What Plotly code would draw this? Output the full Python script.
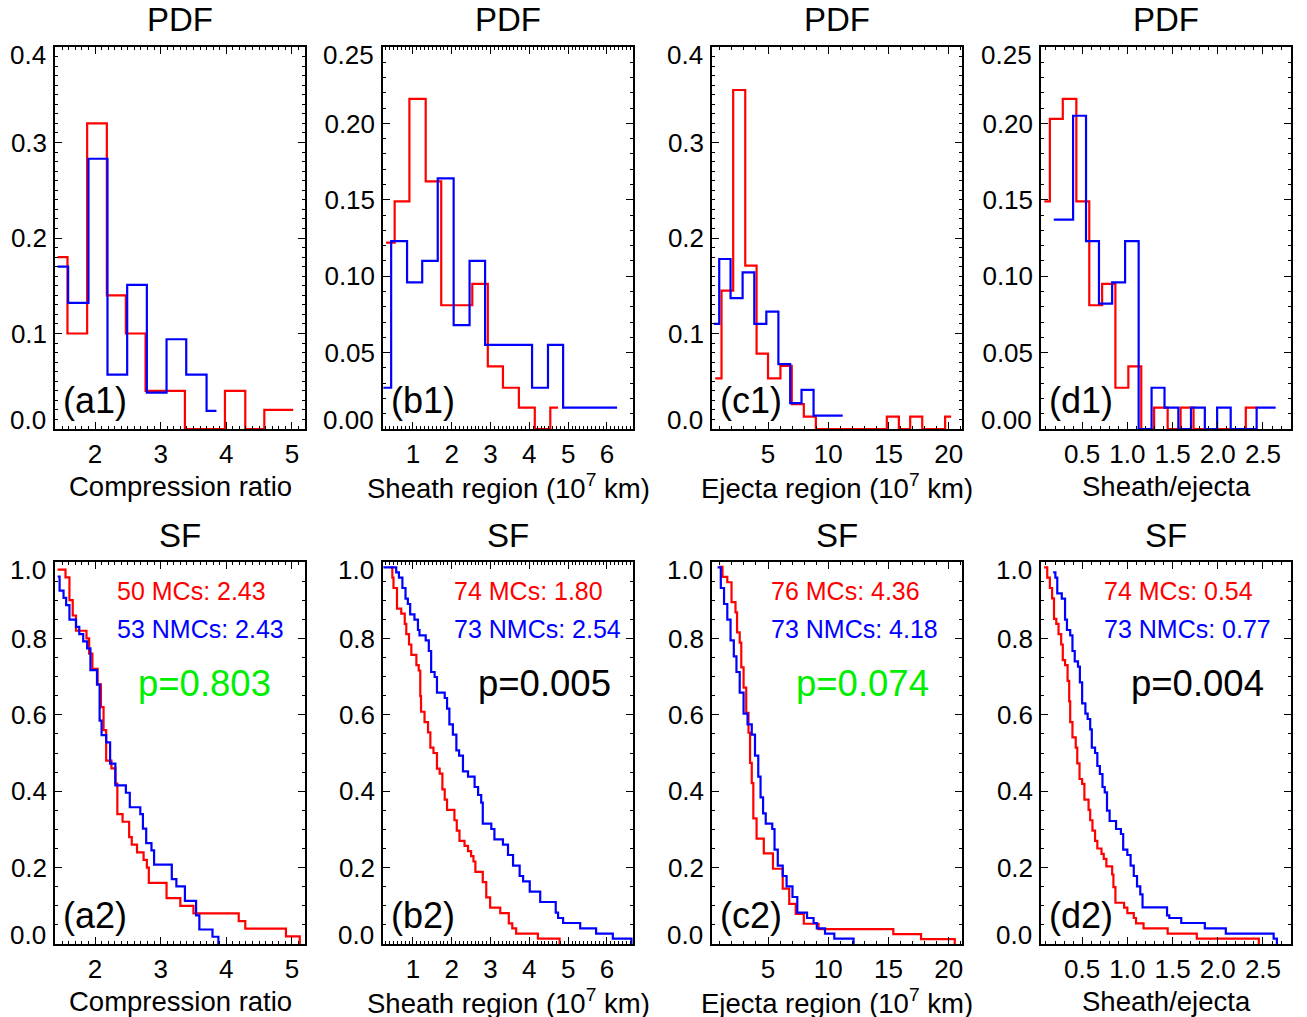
import plotly.graph_objects as go

# ---------------- data ----------------
# PDF histograms: step edges (n+1) and heights (n)
a1_mc_edges = [1.43, 1.58, 1.88, 2.18, 2.47, 2.77, 3.37, 3.98, 4.29, 4.58, 5.02]
a1_mc_pdf = [0.18, 0.10, 0.32, 0.14, 0.10, 0.04, 0.00, 0.04, 0.00, 0.02]
a1_nmc_edges = [1.43, 1.59, 1.90, 2.19, 2.49, 2.79, 3.09, 3.39, 3.70, 3.85]
a1_nmc_pdf = [0.170, 0.132, 0.283, 0.057, 0.151, 0.038, 0.094, 0.057, 0.019]

b1_mc_edges = [0.31, 0.53, 0.91, 1.33, 1.73, 2.53, 2.93, 3.32, 3.73, 4.14, 4.54, 4.74]
b1_mc_pdf = [0.122, 0.149, 0.216, 0.162, 0.081, 0.095, 0.041, 0.027, 0.014, 0.0, 0.014]
b1_nmc_edges = [0.24, 0.44, 0.85, 1.24, 1.64, 2.05, 2.46, 2.86, 4.07, 4.48, 4.87, 6.26]
b1_nmc_pdf = [0.027, 0.123, 0.096, 0.110, 0.164, 0.068, 0.110, 0.055, 0.027, 0.055, 0.014]

c1_mc_edges = [0.62, 1.14, 2.11, 3.11, 4.05, 5.0, 6.03, 6.97, 7.97, 8.97, 14.86, 15.86, 16.8, 17.8, 19.7, 20.2]
c1_mc_pdf = [0.053, 0.145, 0.355, 0.171, 0.079, 0.053, 0.066, 0.026, 0.013, 0.0, 0.013, 0.0, 0.013, 0.0, 0.013]
c1_nmc_edges = [0.49, 0.95, 1.89, 2.89, 3.86, 4.86, 5.86, 6.84, 7.78, 8.78, 11.2]
c1_nmc_pdf = [0.110, 0.178, 0.137, 0.164, 0.110, 0.123, 0.068, 0.027, 0.041, 0.014]

d1_mc_edges = [0.082, 0.143, 0.286, 0.436, 0.579, 0.721, 0.868, 1.011, 1.154, 1.296, 1.446, 1.589, 1.732, 2.31, 2.43]
d1_mc_pdf = [0.149, 0.203, 0.216, 0.149, 0.081, 0.095, 0.027, 0.041, 0.0, 0.014, 0.0, 0.014, 0.0, 0.014]
d1_nmc_edges = [0.186, 0.40, 0.543, 0.686, 0.832, 0.975, 1.125, 1.268, 1.411, 1.564, 1.704, 1.857, 1.993, 2.143, 2.43, 2.64]
d1_nmc_pdf = [0.137, 0.205, 0.123, 0.082, 0.096, 0.123, 0.0, 0.027, 0.014, 0.0, 0.014, 0.0, 0.014, 0.0, 0.014]

# Survival functions: step positions and values after each step
a2_mc_x = [1.43, 1.55, 1.61, 1.66, 1.71, 1.87, 1.91, 1.96, 2.04, 2.09, 2.13, 2.17, 2.25, 2.31, 2.34,
           2.42, 2.52, 2.56, 2.64, 2.74, 2.79, 2.82, 3.09, 3.30, 3.50, 4.19, 4.29, 4.91, 5.12]
a2_mc_sf = [0.98, 0.96, 0.90, 0.86, 0.82, 0.80, 0.76, 0.72, 0.68, 0.62, 0.56, 0.48, 0.46, 0.42, 0.34,
            0.32, 0.28, 0.26, 0.24, 0.22, 0.20, 0.16, 0.12, 0.10, 0.08, 0.06, 0.04, 0.02, 0.0]
a2_nmc_x = [1.43, 1.46, 1.52, 1.56, 1.61, 1.71, 1.76, 1.82, 1.88, 1.93, 2.03, 2.07, 2.10, 2.17, 2.23,
            2.31, 2.47, 2.53, 2.69, 2.73, 2.78, 2.86, 2.90, 3.17, 3.24, 3.37, 3.54, 3.59, 3.79, 3.88]
a2_nmc_sf = [0.962, 0.925, 0.906, 0.887, 0.849, 0.830, 0.811, 0.792, 0.774, 0.717, 0.679, 0.585, 0.547, 0.528, 0.472,
             0.415, 0.396, 0.358, 0.340, 0.302, 0.264, 0.245, 0.208, 0.170, 0.151, 0.113, 0.075, 0.038, 0.019, 0.0]

b2_mc_x = [0.42, 0.47, 0.50, 0.59, 0.70, 0.79, 0.83, 0.90, 0.96, 1.09, 1.15, 1.19, 1.21, 1.30, 1.39, 1.45, 1.53,
           1.62, 1.69, 1.76, 1.82, 1.88, 2.07, 2.13, 2.20, 2.33, 2.42, 2.50, 2.56, 2.61, 2.80, 2.89, 2.99,
           3.25, 3.47, 3.56, 3.66, 4.22, 4.78]
b2_mc_sf = [0.986, 0.959, 0.932, 0.878, 0.865, 0.838, 0.811, 0.784, 0.757, 0.730, 0.716, 0.649, 0.608, 0.581,
            0.554, 0.514, 0.500, 0.459, 0.446, 0.405, 0.378, 0.351, 0.324, 0.297, 0.270, 0.257, 0.243, 0.230,
            0.216, 0.189, 0.162, 0.122, 0.095, 0.081, 0.054, 0.041, 0.027, 0.014, 0.0]
b2_nmc_x = [0.24, 0.57, 0.64, 0.73, 0.81, 0.87, 0.93, 1.04, 1.13, 1.17, 1.33, 1.41, 1.47, 1.56, 1.62, 1.82,
            1.88, 1.94, 2.03, 2.12, 2.19, 2.29, 2.42, 2.59, 2.68, 2.76, 2.80, 3.02, 3.10, 3.32, 3.45, 3.58,
            3.75, 3.84, 4.01, 4.28, 4.68, 4.74, 4.87, 5.31, 5.72, 6.15, 6.63]
b2_nmc_sf = [0.986, 0.973, 0.959, 0.932, 0.904, 0.890, 0.863, 0.849, 0.822, 0.808, 0.795, 0.767, 0.712, 0.699,
             0.658, 0.644, 0.616, 0.575, 0.548, 0.507, 0.493, 0.452, 0.438, 0.411, 0.390, 0.370, 0.315, 0.301,
             0.274, 0.260, 0.233, 0.205, 0.178, 0.164, 0.137, 0.110, 0.082, 0.068, 0.055, 0.041, 0.027, 0.014, 0.0]

c2_mc_x = [0.95, 1.22, 1.62, 1.97, 2.30, 2.43, 2.65, 2.78, 2.97, 3.19, 3.38, 3.51, 3.65, 3.78, 4.05, 4.65,
           5.41, 6.22, 6.76, 7.30, 7.97, 9.19, 15.4, 17.7, 20.5]
c2_mc_sf = [0.987, 0.961, 0.947, 0.895, 0.868, 0.816, 0.789, 0.724, 0.671, 0.605, 0.553, 0.474, 0.421, 0.329,
            0.276, 0.237, 0.197, 0.145, 0.105, 0.079, 0.053, 0.039, 0.026, 0.013, 0.0]
c2_nmc_x = [0.81, 1.08, 1.35, 1.62, 1.89, 2.16, 2.38, 2.65, 2.97, 3.30, 3.65, 3.92, 4.19, 4.38, 4.59, 4.81,
            5.35, 5.54, 5.81, 6.22, 6.54, 7.03, 7.43, 8.24, 8.78, 9.05, 9.73, 10.5, 12.1]
c2_nmc_sf = [0.986, 0.932, 0.890, 0.849, 0.795, 0.753, 0.712, 0.658, 0.603, 0.575, 0.548, 0.493, 0.438, 0.384,
             0.342, 0.315, 0.301, 0.247, 0.205, 0.178, 0.151, 0.123, 0.082, 0.068, 0.055, 0.041, 0.027, 0.014, 0.0]

d2_mc_x = [0.079, 0.114, 0.143, 0.168, 0.189, 0.214, 0.239, 0.268, 0.286, 0.311, 0.339, 0.357, 0.368, 0.393,
           0.429, 0.446, 0.471, 0.500, 0.525, 0.571, 0.589, 0.614, 0.643, 0.668, 0.714, 0.739, 0.768, 0.832,
           0.846, 0.868, 0.964, 1.000, 1.071, 1.096, 1.179, 1.446, 1.768, 2.454]
d2_mc_sf = [0.986, 0.959, 0.932, 0.905, 0.851, 0.838, 0.811, 0.784, 0.743, 0.730, 0.689, 0.635, 0.581, 0.541,
            0.514, 0.473, 0.432, 0.419, 0.378, 0.351, 0.324, 0.297, 0.270, 0.250, 0.236, 0.223, 0.203, 0.182,
            0.149, 0.108, 0.095, 0.081, 0.068, 0.054, 0.041, 0.027, 0.014, 0.0]
d2_nmc_x = [0.179, 0.204, 0.225, 0.275, 0.311, 0.332, 0.368, 0.393, 0.418, 0.454, 0.475, 0.500, 0.536, 0.561,
            0.589, 0.607, 0.643, 0.668, 0.696, 0.725, 0.750, 0.775, 0.804, 0.875, 0.929, 0.954, 1.000, 1.036,
            1.071, 1.107, 1.143, 1.168, 1.439, 1.464, 1.596, 1.857, 2.089, 2.618, 2.654]
d2_nmc_sf = [0.973, 0.959, 0.918, 0.904, 0.849, 0.822, 0.808, 0.767, 0.740, 0.726, 0.685, 0.630, 0.603, 0.589,
             0.562, 0.514, 0.500, 0.466, 0.445, 0.411, 0.397, 0.349, 0.322, 0.301, 0.288, 0.247, 0.233, 0.205,
             0.178, 0.151, 0.130, 0.096, 0.075, 0.068, 0.055, 0.041, 0.027, 0.014, 0.0]

panel_letters = ["a", "b", "c", "d"]
x_titles = ["Compression ratio", "Sheath region (10<sup>7</sup> km)",
            "Ejecta region (10<sup>7</sup> km)", "Sheath/ejecta"]
x_ranges = [[1.39, 5.2], [0.23, 6.67], [0.35, 21.1], [0.045, 2.81]]
x_tickvals = [[2, 3, 4, 5], [1, 2, 3, 4, 5, 6], [5, 10, 15, 20], [0.5, 1.0, 1.5, 2.0, 2.5]]
x_ticktext = [["2", "3", "4", "5"], ["1", "2", "3", "4", "5", "6"], ["5", "10", "15", "20"],
              ["0.5", "1.0", "1.5", "2.0", "2.5"]]
x_minor = [0.1, 0.1, 1, 0.1]
pdf_y_ticks = [[0, 0.1, 0.2, 0.3, 0.4], [0, 0.05, 0.10, 0.15, 0.20, 0.25],
               [0, 0.1, 0.2, 0.3, 0.4], [0, 0.05, 0.10, 0.15, 0.20, 0.25]]
pdf_y_text = [["0.0", "0.1", "0.2", "0.3", "0.4"], ["0.00", "0.05", "0.10", "0.15", "0.20", "0.25"],
              ["0.0", "0.1", "0.2", "0.3", "0.4"], ["0.00", "0.05", "0.10", "0.15", "0.20", "0.25"]]
pdf_y_minor = [0.01, 0.01, 0.01, 0.01]
sf_y_ticks = [0, 0.2, 0.4, 0.6, 0.8, 1.0]
sf_y_text = ["0.0", "0.2", "0.4", "0.6", "0.8", "1.0"]
mc_counts = [50, 74, 76, 74]
nmc_counts = [53, 73, 73, 73]
mc_medians = ["2.43", "1.80", "4.36", "0.54"]
nmc_medians = ["2.43", "2.54", "4.18", "0.77"]
p_values = ["0.803", "0.005", "0.074", "0.004"]
p_is_green = [True, False, True, False]

pdf_series = [
    (a1_mc_edges, a1_mc_pdf, a1_nmc_edges, a1_nmc_pdf),
    (b1_mc_edges, b1_mc_pdf, b1_nmc_edges, b1_nmc_pdf),
    (c1_mc_edges, c1_mc_pdf, c1_nmc_edges, c1_nmc_pdf),
    (d1_mc_edges, d1_mc_pdf, d1_nmc_edges, d1_nmc_pdf),
]
sf_series = [
    (a2_mc_x, a2_mc_sf, a2_nmc_x, a2_nmc_sf),
    (b2_mc_x, b2_mc_sf, b2_nmc_x, b2_nmc_sf),
    (c2_mc_x, c2_mc_sf, c2_nmc_x, c2_nmc_sf),
    (d2_mc_x, d2_mc_sf, d2_nmc_x, d2_nmc_sf),
]

# ---------------- style / layout ----------------
W, H = 1307, 1017
OFF = 8                      # default page margin that shifts the plot div
RED, BLUE, GREEN, BLACK = "#ff0000", "#0000ff", "#00ee00", "#000000"
FONT = "Liberation Sans, Arial, Helvetica, sans-serif"
TICK_SIZE = 26
col_left = [55, 383, 712, 1041]   # page pixel positions of the panels
panel_w = 250
row_top = [47, 562]
panel_h = 382


def px(xp):
    return (xp - OFF) / W


def py(yp):
    return 1 - (yp - OFF) / H


fig = go.Figure()
annotations = []

for r in range(2):
    for c in range(4):
        k = r * 4 + c + 1
        xname = "xaxis" if k == 1 else f"xaxis{k}"
        yname = "yaxis" if k == 1 else f"yaxis{k}"
        xref = "x" if k == 1 else f"x{k}"
        yref = "y" if k == 1 else f"y{k}"
        left = col_left[c]
        top = row_top[r]
        bottom = top + panel_h

        if r == 0:
            mc_x, mc_y, nmc_x, nmc_y = pdf_series[c]
            fig.add_trace(go.Scatter(x=mc_x, y=list(mc_y) + [mc_y[-1]], mode="lines", line_shape="hv",
                                     line=dict(color=RED, width=2.2), xaxis=xref, yaxis=yref))
            fig.add_trace(go.Scatter(x=nmc_x, y=list(nmc_y) + [nmc_y[-1]], mode="lines", line_shape="hv",
                                     line=dict(color=BLUE, width=2.2), xaxis=xref, yaxis=yref))
            yticks, ytext = pdf_y_ticks[c], pdf_y_text[c]
            yrange = [0, yticks[-1]]
            yminor = pdf_y_minor[c]
        else:
            mc_x, mc_y, nmc_x, nmc_y = sf_series[c]
            fig.add_trace(go.Scatter(x=mc_x, y=mc_y, mode="lines", line_shape="hv",
                                     line=dict(color=RED, width=2.2), xaxis=xref, yaxis=yref))
            fig.add_trace(go.Scatter(x=nmc_x, y=nmc_y, mode="lines", line_shape="hv",
                                     line=dict(color=BLUE, width=2.2), xaxis=xref, yaxis=yref))
            yticks, ytext = sf_y_ticks, sf_y_text
            yrange = [0, 1.0]
            yminor = 0.05

        common = dict(showgrid=False, zeroline=False, showline=True, linecolor=BLACK, linewidth=1.5,
                      mirror="allticks", ticks="inside", ticklen=7, tickwidth=1.2, tickcolor=BLACK,
                      tickfont=dict(family=FONT, size=TICK_SIZE, color=BLACK), tickmode="array",
                      automargin=False)
        fig.update_layout({
            xname: dict(common, domain=[px(left), px(left + panel_w)], range=x_ranges[c],
                        tickvals=x_tickvals[c], ticktext=x_ticktext[c], anchor=yref,
                        ticklabelstandoff=1,
                        minor=dict(tickmode="linear", tick0=0, dtick=x_minor[c], ticks="inside", ticklen=3.5,
                                   tickwidth=1, tickcolor=BLACK, showgrid=False)),
            yname: dict(common, domain=[py(bottom), py(top)], range=yrange, anchor=xref,
                        tickvals=yticks, ticktext=[" "] + ytext[1:-1] + [" "],
                        ticklabelstandoff=1,
                        minor=dict(tickmode="linear", tick0=0, dtick=yminor, ticks="inside", ticklen=3.5,
                                   tickwidth=1, tickcolor=BLACK, showgrid=False)),
        })

        # end labels of the y axis, nudged inward as in the reference
        for val, txt, shift in [(yticks[0], ytext[0], 9), (yticks[-1], ytext[-1], -8)]:
            annotations.append(dict(x=px(left - 7), xref="paper", y=val, yref=yref, yshift=shift,
                                    text=txt, showarrow=False, xanchor="right", yanchor="middle",
                                    font=dict(family=FONT, size=TICK_SIZE, color=BLACK)))

        # panel title
        annotations.append(dict(x=px(left + panel_w / 2), y=py(top - 27), xref="paper", yref="paper",
                                text="PDF" if r == 0 else "SF", showarrow=False,
                                xanchor="center", yanchor="middle",
                                font=dict(family=FONT, size=33, color=BLACK)))
        # x axis title
        annotations.append(dict(x=px(left + panel_w / 2), y=py(bottom + 57), xref="paper", yref="paper",
                                text=x_titles[c], showarrow=False, xanchor="center", yanchor="middle",
                                font=dict(family=FONT, size=27.5, color=BLACK)))
        # panel label
        annotations.append(dict(x=px(left + 6), y=py(bottom - 29), xref="paper", yref="paper",
                                text=f"({panel_letters[c]}{r + 1})", showarrow=False,
                                xanchor="left", yanchor="middle",
                                font=dict(family=FONT, size=36, color=BLACK)))

        if r == 1:
            stat_off = [60, 69, 57, 61][c]
            p_off = [81, 93, 82, 88][c]
            annotations.append(dict(x=px(left + stat_off), y=py(top + 29), xref="paper", yref="paper",
                                    text=f"{mc_counts[c]} MCs: {mc_medians[c]}", showarrow=False,
                                    xanchor="left", yanchor="middle",
                                    font=dict(family=FONT, size=25, color=RED)))
            annotations.append(dict(x=px(left + stat_off), y=py(top + 67), xref="paper", yref="paper",
                                    text=f"{nmc_counts[c]} NMCs: {nmc_medians[c]}", showarrow=False,
                                    xanchor="left", yanchor="middle",
                                    font=dict(family=FONT, size=25, color=BLUE)))
            annotations.append(dict(x=px(left + p_off), y=py(top + 121), xref="paper", yref="paper",
                                    text=f"p={p_values[c]}", showarrow=False,
                                    xanchor="left", yanchor="middle",
                                    font=dict(family=FONT, size=36.5, color=GREEN if p_is_green[c] else BLACK)))

fig.update_layout(width=W, height=H, margin=dict(l=0, r=0, t=0, b=0, pad=0, autoexpand=False),
                  showlegend=False, autosize=False,
                  paper_bgcolor="white", plot_bgcolor="white",
                  font=dict(family=FONT, color=BLACK), annotations=annotations)

fig.write_html("out.html")
